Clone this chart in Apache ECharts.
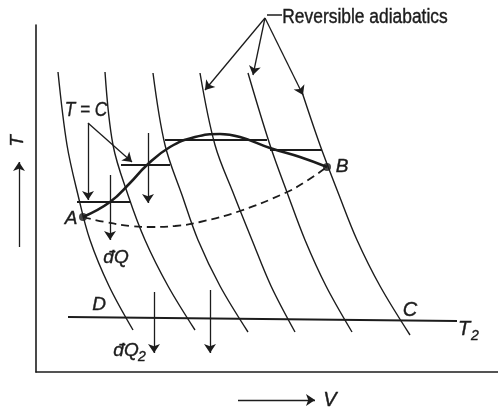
<!DOCTYPE html>
<html><head><meta charset="utf-8">
<script src="https://cdn.jsdelivr.net/npm/echarts@6/dist/echarts.min.js"></script>
<style>html,body{margin:0;padding:0;background:#fff}#c{width:498px;height:409px}</style>
</head><body><div id="c"></div>
<script>
// Reversible adiabatics (V, T)
const adiabat1 = [[22,300],[31,227],[42,177],[54,132],[73,86],[97,42]];
const adiabat2 = [[69,300],[77,227],[92,177],[109,132],[132,86],[159,42]];
const adiabat3 = [[117,299],[129,227],[146,177],[162,132],[184,86],[212,40]];
const adiabat4 = [[164,299],[179,227],[198,177],[216,132],[235,86],[259,40]];
const adiabat5 = [[212,299],[234,227],[252,177],[269,132],[290,86],[316,40]];
const adiabat6 = [[266,280],[284,227],[303,177],[321,132],[344,86],[374,37]];
// Reversible process A -> B (solid) and irreversible (dashed)
const pathAB = [[47,155],[74,170],[94,189],[111,207],[134,225],[159,235],[184,238],[204,235],[234,224],[264,215],[291,205]];
const pathABdashed = [[47,155],[69,150],[94,146],[114,145],[139,146],[164,150],[204,161],[249,179],[269,190],[291,205]];
const pointA = [47,155];
const pointB = [291,205];
// Isothermal (T = C) steps
const isotherms = [[[41,170],[95,170]],[[85,207],[134,207]],[[129,232],[231,232]],[[234,222],[286,222]]];
// Isotherm T2 (D ... C)
const lineT2 = [[32,55],[421,51]];
// Heat arrows
const heatArrows = [[[52,249],[52,172]],[[52,249],[96,210]],[[112,239],[112,169]],[[74,197],[74,132]],[[118,80],[118,19]],[[174,82],[174,19]]];
// "Reversible adiabatics" pointers
const pointerArrows = [[[229,354],[169,282]],[[229,354],[217,297]],[[229,354],[267,277]]];
const pointerDash = [[231,357],[246,357]];
// Axis direction arrows
const axisArrows = [[[-17,125],[-17,210]],[[202,-28],[279,-28]]];

const ink = '#1c1c1c';
const adiabats = [adiabat1, adiabat2, adiabat3, adiabat4, adiabat5, adiabat6];
const series = [];
adiabats.forEach(a => series.push({type:'line', data:a, smooth:0.35, symbol:'none', clip:false,
  lineStyle:{color:ink, width:1.4}}));
series.push({type:'line', data:pathAB, smooth:0.45, symbol:'none', clip:false, lineStyle:{color:ink, width:2.6}});
series.push({type:'line', data:pathABdashed, smooth:0.45, symbol:'none', clip:false, lineStyle:{color:ink, width:1.8, type:[8,5]}});
series.push({type:'lines', coordinateSystem:'cartesian2d', clip:false, symbol:'none',
  data: isotherms.concat([lineT2]).map(c => ({coords:c})), lineStyle:{color:ink, width:1.8, opacity:1}});
series.push({type:'lines', coordinateSystem:'cartesian2d', clip:false, symbol:['none','arrow'], symbolSize:9,
  data: heatArrows.concat(pointerArrows, axisArrows).map(c => ({coords:c})), lineStyle:{color:ink, width:1.3, opacity:1}});
series.push({type:'lines', coordinateSystem:'cartesian2d', clip:false, symbol:'none',
  data: [{coords:pointerDash}], lineStyle:{color:ink, width:1.5, opacity:1}});
series.push({type:'scatter', data:[pointA, pointB], symbolSize:8, clip:false, itemStyle:{color:ink}});

const F = 'Liberation Sans';
function txt(x, y, s, size, opt) {
  return Object.assign({type:'text', x:x, y:y, style:{text:s, font:'italic ' + size + 'px "' + F + '"', fill:ink,
    stroke:ink, lineWidth:0.4, textAlign:'center', textVerticalAlign:'middle'}}, opt || {});
}
const chart = echarts.init(document.getElementById('c'));
chart.setOption({
  animation:false,
  backgroundColor:'#fff',
  grid:{left:36, top:25, right:0, bottom:37},
  xAxis:{type:'value', min:0, max:462, axisLine:{show:true, lineStyle:{color:ink, width:1.6}},
    axisTick:{show:false}, axisLabel:{show:false}, splitLine:{show:false}},
  yAxis:{type:'value', min:0, max:347, axisLine:{show:true, lineStyle:{color:ink, width:1.6}},
    axisTick:{show:false}, axisLabel:{show:false}, splitLine:{show:false}},
  series: series,
  graphic:[
    {type:'text', x:365, y:17, scaleX:0.87, style:{text:'Reversible adiabatics', font:'20px "' + F + '"', fill:ink, stroke:ink, lineWidth:0.4, textAlign:'center', textVerticalAlign:'middle'}},
    txt(86, 110, 'T = C', 21, {scaleX:0.82}),
    txt(71, 219, 'A', 19),
    txt(342, 167, 'B', 19),
    txt(116, 258, 'đQ', 19),
    txt(126, 351, 'đQ', 19),
    txt(142, 357, '2', 14),
    txt(99, 305, 'D', 19),
    txt(410, 310, 'C', 20),
    txt(464, 329, 'T', 20),
    txt(475, 336, '2', 14),
    txt(18, 141, 'T', 19, {rotation:Math.PI/2}),
    txt(330, 400, 'V', 20)
  ]
});
</script></body></html>
